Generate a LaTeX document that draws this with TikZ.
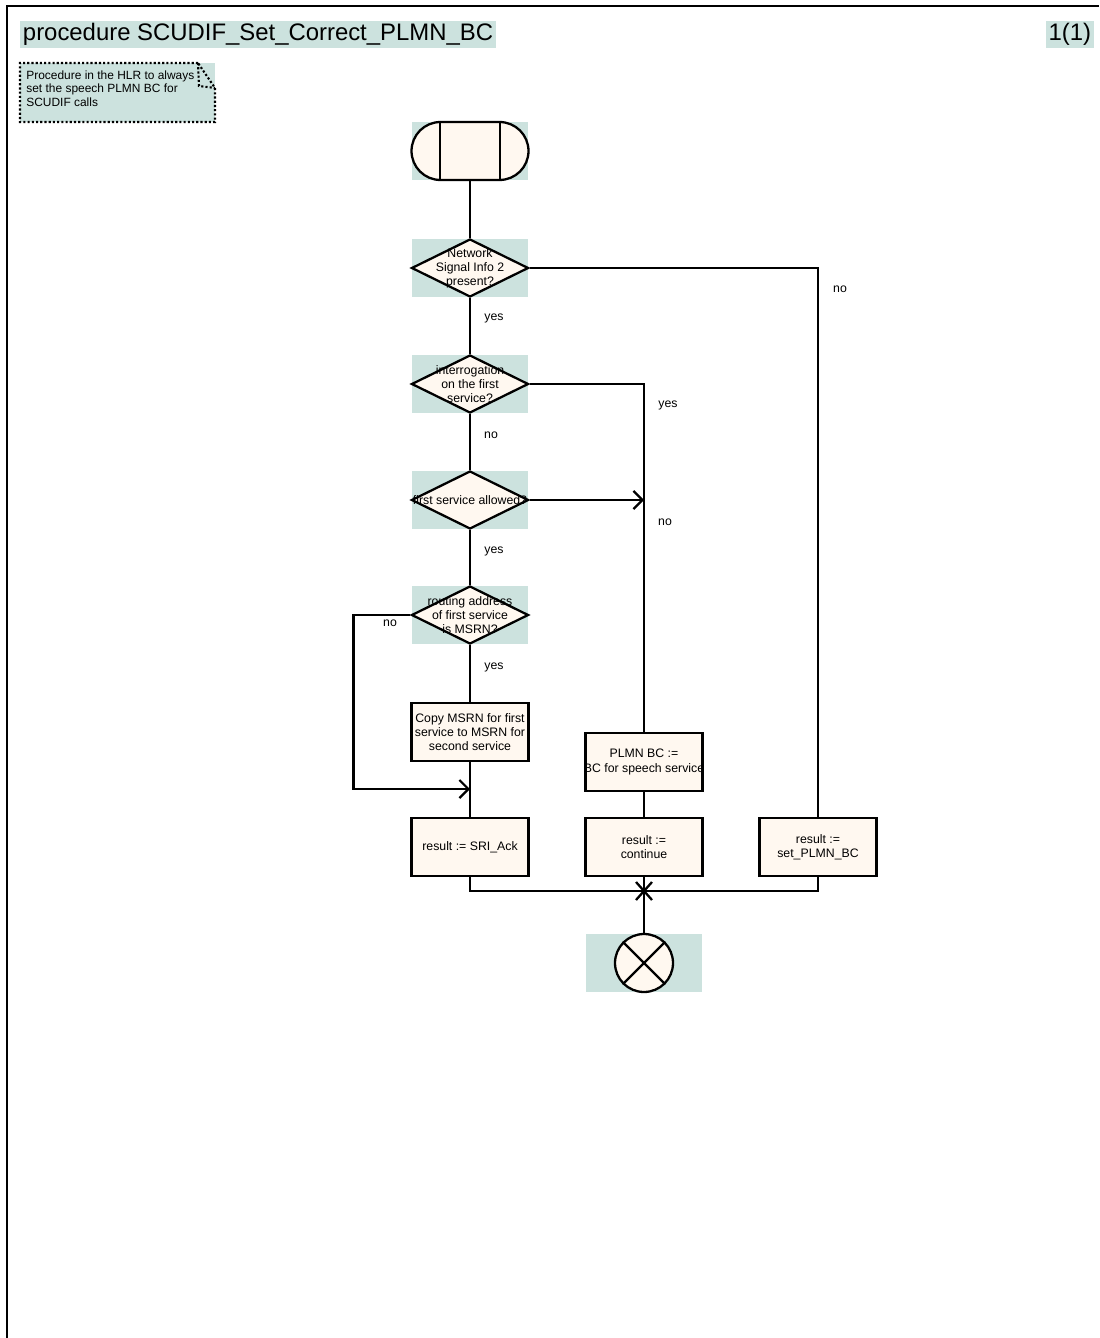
\documentclass[tikz,border=0pt]{standalone}
\usepackage{fontspec}
\setmainfont{Liberation Sans}
\usepackage{xcolor}
\usetikzlibrary{arrows.meta,calc,shapes.geometric}
\definecolor{sdlbg}{RGB}{204,226,222}
\definecolor{sdlfill}{RGB}{255,248,240}
\tikzset{
  sdlfont/.style={font=\fontsize{7}{8}\selectfont},
  symbg/.style={fill=sdlbg, minimum width=2.34cm, minimum height=1.16cm, inner sep=0pt},
  taskbox/.style={draw, line width=1.3pt, fill=sdlfill, minimum width=2.34cm, minimum height=1.16cm, inner sep=1pt, align=center, sdlfont},
  decision/.style={draw, diamond, line width=1.3pt, fill=sdlfill, minimum width=2.34cm, minimum height=1.16cm, inner sep=0pt},
  dtext/.style={align=center, sdlfont, inner sep=0pt},
  startbox/.style={draw, line width=1.3pt, fill=sdlfill, rounded corners=0.58cm, minimum width=2.34cm, minimum height=1.16cm, inner sep=0pt},
  stopnode/.style={draw, circle, line width=1.3pt, fill=sdlfill, minimum size=1.16cm, inner sep=0pt},
  flow/.style={line width=1.3pt},
  flowarrow/.style={flow, -{Straight Barb[length=1.8mm, width=3.6mm]}},
  lbl/.style={sdlfont, inner sep=0pt},
  titlebox/.style={fill=sdlbg, font=\fontsize{13.6}{16}\selectfont, inner sep=1.5pt, minimum height=0.5cm}
}

\begin{document}
\begin{tikzpicture}[x=0.02cm, y=-0.02cm]
  \useasboundingbox (0,0) rectangle (1099,1338);
  % frame and header
  \draw[line width=1.5pt] (7,1338) -- (7,6) -- (1099,6);
  \node[titlebox, anchor=west] (title) at (20,34.5) {procedure SCUDIF\_Set\_Correct\_PLMN\_BC};
  \node[titlebox, anchor=east] (page) at (1094,34.5) {1(1)};

  % comment
  \fill[sdlbg] (20,63) rectangle (215,122);
  \draw[line width=1.2pt, dash pattern=on 1.2pt off 1.2pt] (198,63) -- (20,63) -- (20,122) -- (215,122) -- (215,88) -- cycle;
  \draw[line width=1.2pt, dash pattern=on 1.2pt off 1.2pt] (198,63) -- (199,86) -- (215,88);
  \node[anchor=north west, align=left, inner sep=0pt, font=\fontsize{6.8}{7.7}\selectfont] (note) at (26,70)
    {Procedure in the HLR to always\\set the speech PLMN BC for\\SCUDIF calls};

  % start
  \node[symbg] (startbg) at (470,151) {};
  \node[startbox] (start) at (470,151) {};
  \draw[flow] ([xshift=0.59cm]start.north west) -- ([xshift=0.59cm]start.south west);
  \draw[flow] ([xshift=-0.59cm]start.north east) -- ([xshift=-0.59cm]start.south east);

  % decisions
  \node[symbg] (d1bg) at (470,268) {};
  \node[decision, label={[dtext]center:Network\\Signal Info 2\\present?}] (d1) at (470,268) {};
  \node[symbg] (d2bg) at (470,384) {};
  \node[decision, label={[dtext]center:interrogation\\on the first\\service?}] (d2) at (470,384) {};
  \node[symbg] (d3bg) at (470,500) {};
  \node[decision, label={[dtext]center:first service allowed?}] (d3) at (470,500) {};
  \node[symbg] (d4bg) at (470,615) {};
  \node[decision, label={[dtext]center:routing address\\of first service\\is MSRN?}] (d4) at (470,615) {};

  % tasks
  \node[taskbox] (copy) at (470,732) {Copy MSRN for first\\service to MSRN for\\second service};
  \node[taskbox, label={[dtext]center:PLMN BC :=\\BC for speech service}] (plmn) at (644,762) {};
  \node[taskbox] (r1) at (470,847) {result := SRI\_Ack};
  \node[taskbox] (r2) at (644,847) {result :=\\continue};
  \node[taskbox] (r3) at (818,847) {result :=\\set\_PLMN\_BC};

  % stop
  \node[symbg] (stopbg) at (644,963) {};
  \node[stopnode] (stop) at (644,963) {};
  \draw[flow] (stop.north west) -- (stop.south east) (stop.north east) -- (stop.south west);

  \coordinate (join1) at (470,789);
  \coordinate (jn) at (644,891);

  % connectors
  \draw[flow] (start.south) -- (d1.north);
  \draw[flow] (d1.south) -- (d2.north);
  \draw[flow] (d1.east) -| (r3.north);
  \draw[flow] (d2.south) -- (d3.north);
  \draw[flow] (d2.east) -| (plmn.north);
  \draw[flowarrow] (d3.east) -- (d3.east -| plmn.north);
  \draw[flow] (d3.south) -- (d4.north);
  \draw[flow] (d4.south) -- (copy.north);
  \draw[flowarrow] (d4.west) -- ++(-57,0) |- (join1);
  \draw[flow] (copy.south) -- (r1.north);
  \draw[flow] (plmn.south) -- (r2.north);
  \draw[flow] (r1.south) |- (jn) -| (r3.south);
  \draw[flow] (r2.south) -- (stop.north);
  \draw[flow] (jn) +(-8,-9) -- +(8,9) (jn) +(-8,9) -- +(8,-9);

  % labels
  \node[lbl] (l1) at (840,289) {no};
  \node[lbl] (l2) at (494,318) {yes};
  \node[lbl] (l3) at (668,405) {yes};
  \node[lbl] (l4) at (491,435) {no};
  \node[lbl] (l5) at (665,522) {no};
  \node[lbl] (l6) at (494,551) {yes};
  \node[lbl] (l7) at (390,623) {no};
  \node[lbl] (l8) at (494,667) {yes};
\end{tikzpicture}
\end{document}
